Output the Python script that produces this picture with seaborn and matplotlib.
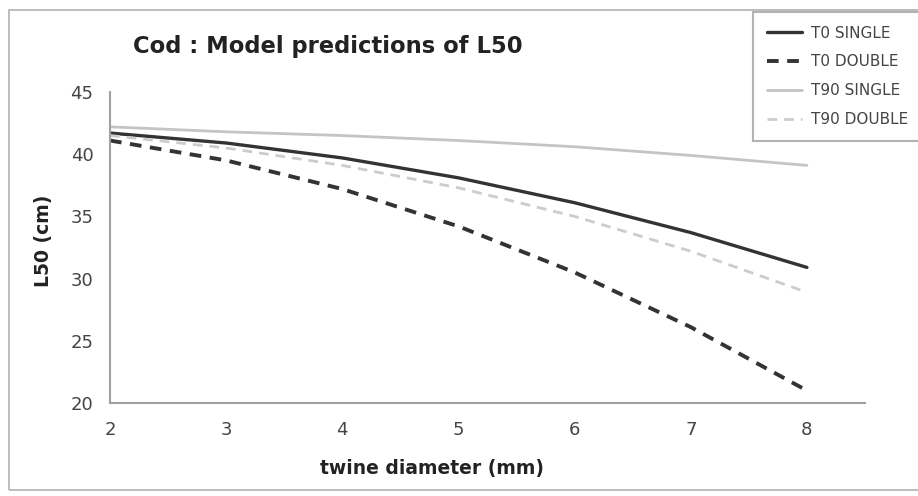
import pandas as pd
import matplotlib.pyplot as plt
import seaborn as sns
from matplotlib.patches import Rectangle

# data
twine = [2, 3, 4, 5, 6, 7, 8]
t0_single = [41.7, 40.9, 39.7, 38.1, 36.1, 33.7, 30.9]
t0_double = [41.1, 39.5, 37.2, 34.2, 30.5, 26.1, 21.0]
t90_single = [42.2, 41.8, 41.5, 41.1, 40.6, 39.9, 39.1]
t90_double = [41.5, 40.5, 39.1, 37.3, 35.0, 32.2, 28.9]

names = ['T0 SINGLE', 'T0 DOUBLE', 'T90 SINGLE', 'T90 DOUBLE']
values = [t0_single, t0_double, t90_single, t90_double]

sns.set_style('white')
plt.rcParams['font.family'] = ['DejaVu Sans']

fig = plt.figure(figsize=(9.18, 4.96), dpi=100)
ax = fig.add_axes([110/918, 1 - 403/496, (865-110)/918, (403-92)/496])

# figure frame
fig.patches.append(Rectangle((9/918, 6/496), 1.0, 1 - 16/496, transform=fig.transFigure,
                             fill=False, edgecolor='#b0b0b0', lw=1.2))

styles = [('#333333', '-', 2.4), ('#333333', (0, (3, 2.2)), 2.8),
          ('#c4c4c4', '-', 2.0), ('#cccccc', (0, (3.5, 2.5)), 2.0)]
for name, vals, (c, ls, lw) in zip(names, values, styles):
    df = pd.DataFrame({'twine': twine, 'L50': vals})
    sns.lineplot(data=df, x='twine', y='L50', ax=ax, color=c, linestyle=ls,
                 linewidth=lw, label=name, legend=False)

ax.set_xlim(2, 8.5)
ax.set_ylim(20, 45)
ax.set_xticks(twine)
ax.set_yticks([20, 25, 30, 35, 40, 45])
for s in ['top', 'right']:
    ax.spines[s].set_visible(False)
for s in ['left', 'bottom']:
    ax.spines[s].set_color('#a0a0a0')
    ax.spines[s].set_linewidth(1.5)
ax.tick_params(direction='inout', length=6, width=1, color='#a0a0a0',
               labelsize=13, labelcolor='#444444')
ax.tick_params(axis='y', pad=9)
ax.tick_params(axis='x', pad=10)

ax.set_xlabel('twine diameter (mm)', fontsize=13.5, fontweight='bold', color='#222222')
ax.xaxis.set_label_coords((432-110)/(865-110), -0.18)
ax.set_ylabel('L50 (cm)', fontsize=13.5, fontweight='bold', color='#222222')
ax.yaxis.set_label_coords(-0.075, 0.52)

fig.text(133/918, 1 - 47/496, 'Cod : Model predictions of L50', fontsize=16.3,
         fontweight='bold', color='#222222', va='center', ha='left')

leg = fig.legend(loc='upper left', bbox_to_anchor=(753/918, 1 - 12/496),
                 fontsize=11, frameon=True, fancybox=False, labelspacing=0.9,
                 handlelength=2.3, borderpad=0.9, handletextpad=0.6,
                 borderaxespad=0)
leg.get_frame().set_edgecolor('#a0a0a0')
leg.get_frame().set_linewidth(1.5)
for t in leg.get_texts():
    t.set_color('#444444')

fig.savefig('out.png', dpi=100)
